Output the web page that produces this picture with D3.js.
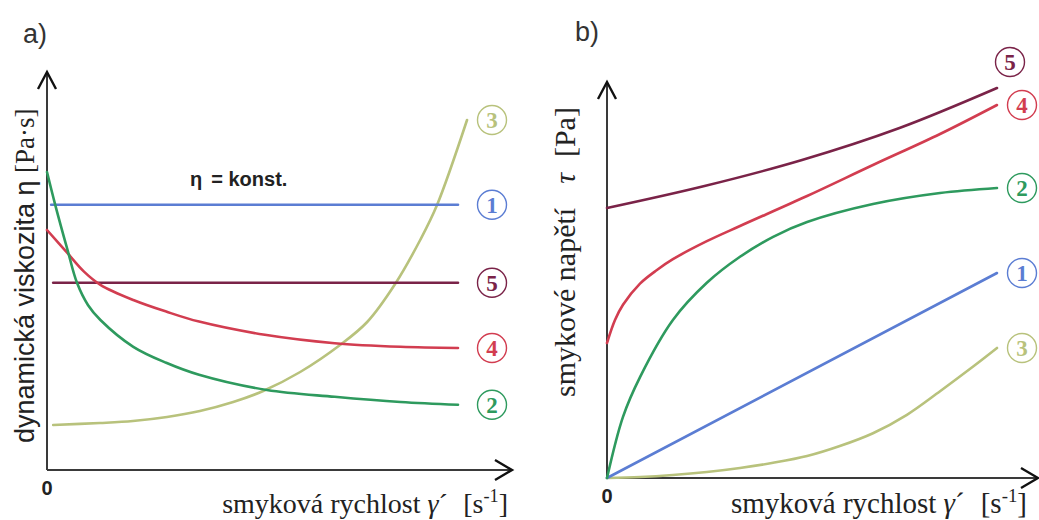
<!DOCTYPE html>
<html><head><meta charset="utf-8">
<script src="https://cdn.jsdelivr.net/npm/d3@7"></script>
<style>
html,body{margin:0;padding:0;background:#fff;}
svg{display:block;}
</style></head>
<body>
<svg id="chart" width="1039" height="520"></svg>
<script>
// ---------- DATA ----------
const seriesIds = ["1","2","3","4","5"];
const seriesColors = {"1":"#5b7dd3","2":"#2e9a5e","3":"#b8c27c","4":"#d23d50","5":"#7a2348"};

// panel a) dynamic viscosity vs shear rate
const aX1 = [0.1, 10];              const aY1 = [6.63, 6.63];
const aX5 = [0.15, 10];             const aY5 = [4.68, 4.68];
const aX4 = [0, 0.5, 0.9, 1.3, 2.1, 2.9, 3.7, 5.3, 7.0, 8.6, 10];
const aY4 = [6.0, 5.42, 4.96, 4.63, 4.25, 3.96, 3.71, 3.38, 3.17, 3.08, 3.05];
const aX2 = [0, 0.2, 0.5, 0.73, 1.0, 1.3, 2.1, 2.9, 3.7, 5.35, 7.0, 8.6, 10];
const aY2 = [7.45, 6.63, 5.5, 4.68, 4.12, 3.75, 3.08, 2.68, 2.38, 2.0, 1.83, 1.7, 1.63];
const aX3 = [0.15, 1.29, 2.09, 2.92, 3.72, 4.53, 5.26, 6.16, 7.13, 7.79, 8.47, 9.08, 9.49, 10.22];
const aY3 = [1.125, 1.175, 1.225, 1.325, 1.475, 1.7, 1.975, 2.45, 3.125, 3.7, 4.65, 5.75, 6.625, 8.75];

// panel b) shear stress vs shear rate
const bX5 = [0, 2.5, 5, 7.5, 10];   const bY5 = [6.75, 7.3, 7.95, 8.75, 9.75];
const bX4 = [0, 0.205, 0.41, 0.846, 1.28, 1.69, 2.56, 3.41, 5.13, 6.82, 8.54, 10];
const bY4 = [3.375, 3.95, 4.33, 4.86, 5.2, 5.47, 5.92, 6.3, 7.05, 7.825, 8.6, 9.325];
const bX2 = [0, 0.41, 0.85, 1.69, 2.56, 3.41, 4.26, 5.13, 6.82, 8.54, 10];
const bY2 = [0, 1.53, 2.53, 3.95, 4.88, 5.53, 6.03, 6.4, 6.85, 7.125, 7.25];
const bX1 = [0, 10];                const bY1 = [0, 5.125];
const bX3 = [0, 0.85, 1.69, 2.56, 3.41, 4.26, 5.13, 5.97, 6.82, 7.69, 8.54, 9.38, 10];
const bY3 = [0, 0.025, 0.075, 0.15, 0.25, 0.38, 0.55, 0.8, 1.12, 1.58, 2.17, 2.78, 3.25];

const panelLabels = ["a)", "b)"];
const originLabel = "0";
const aYTitle = "dynamická viskozita η";
const aYUnit = "[Pa·s]";
const bYTitle = "smykové napětí";
const bYSym = "τ";
const bYUnit = "[Pa]";
const xTitle = "smyková rychlost";
const xSym = "γ";
const constLabel = "= konst.";
const constSym = "η";

// ---------- DRAW ----------
const svg = d3.select("#chart");
const AX = "#3a3a3a";
const serif = "'Liberation Serif', 'Times New Roman', serif";
const sans = "'Liberation Sans', Arial, sans-serif";

function zip(xs, ys){ return xs.map((x,i)=>({x, y:ys[i]})); }

function panel(cfg){
  const g = svg.append("g");
  const x = d3.scaleLinear().domain([0,10]).range(cfg.xr);
  const y = d3.scaleLinear().domain([0,10]).range(cfg.yr);
  const ox = x(0), oy = y(0);
  g.append("line").attr("x1",ox).attr("y1",oy).attr("x2",ox).attr("y2",cfg.yTop)
    .attr("stroke",AX).attr("stroke-width",2);
  g.append("line").attr("x1",ox).attr("y1",oy).attr("x2",cfg.xEnd).attr("y2",oy)
    .attr("stroke",AX).attr("stroke-width",2);
  g.append("path").attr("d",`M${ox-9},${cfg.yTop+17}L${ox},${cfg.yTop}L${ox+9},${cfg.yTop+17}`)
    .attr("fill","none").attr("stroke","#111").attr("stroke-width",2.4);
  g.append("path").attr("d",`M${cfg.xEnd-17},${oy-10}L${cfg.xEnd},${oy}L${cfg.xEnd-17},${oy+10}`)
    .attr("fill","none").attr("stroke","#111").attr("stroke-width",2.4);
  const line = d3.line().x(d=>x(d.x)).y(d=>y(d.y)).curve(d3.curveCatmullRom.alpha(0.5));
  cfg.series.forEach(s=>{
    g.append("path").datum(zip(s.xs,s.ys)).attr("d",line)
      .attr("fill","none").attr("stroke",seriesColors[s.id]).attr("stroke-width",2.6)
      .attr("stroke-linecap","round");
  });
  cfg.series.forEach(s=>{
    const off = (cfg.labelOff && cfg.labelOff[s.id]) || [0,0];
    const lx = x(10) + cfg.labelDx + off[0];
    const ly = y(s.ys[s.ys.length-1]) + off[1];
    g.append("circle").attr("cx",lx).attr("cy",ly).attr("r",14.5)
      .attr("fill","#fff").attr("stroke",seriesColors[s.id]).attr("stroke-width",1.4);
    g.append("text").attr("x",lx).attr("y",ly+8).attr("text-anchor","middle")
      .style("font-family",serif).attr("font-size",23).attr("font-weight","bold")
      .attr("fill",seriesColors[s.id]).text(s.id);
  });
  g.append("text").attr("x",ox).attr("y",cfg.zeroY).attr("text-anchor","middle")
    .style("font-family",sans).attr("font-weight","bold").attr("font-size",20)
    .attr("fill","#222").text(originLabel);
  g.append("text").attr("x",cfg.plx).attr("y",cfg.ply).style("font-family",sans)
    .attr("font-size",27).attr("fill","#333").text(cfg.panelLabel);
  const t = g.append("text").attr("x",cfg.xtX).attr("y",cfg.xtY).attr("text-anchor","end")
    .style("font-family",serif).attr("font-size",cfg.xtSize).attr("fill","#222");
  t.append("tspan").text(xTitle + " ");
  t.append("tspan").attr("font-style","italic").text(xSym);
  t.append("tspan").text("´");
  t.append("tspan").attr("dx",cfg.xtSize*0.55).text("[s");
  t.append("tspan").attr("dy",-cfg.xtSize*0.38).attr("font-size",cfg.xtSize*0.65).text("-1");
  t.append("tspan").attr("dy",cfg.xtSize*0.38).text("]");
  return {g,x,y};
}

const A = panel({
  xr:[47,458], yr:[470,70], yTop:72, xEnd:512, labelDx:34,
  zeroY:495, plx:23, ply:43, panelLabel:panelLabels[0],
  xtX:508, xtY:513, xtSize:28,
  series:[
    {id:"3", xs:aX3, ys:aY3},
    {id:"1", xs:aX1, ys:aY1},
    {id:"5", xs:aX5, ys:aY5},
    {id:"4", xs:aX4, ys:aY4},
    {id:"2", xs:aX2, ys:aY2}
  ]
});
const B = panel({
  xr:[607,997], yr:[478,78], yTop:82, xEnd:1038, labelDx:25,
  labelOff:{"5":[-12,-26]},
  zeroY:503, plx:575, ply:41, panelLabel:panelLabels[1],
  xtX:1027, xtY:513, xtSize:29,
  series:[
    {id:"3", xs:bX3, ys:bY3},
    {id:"1", xs:bX1, ys:bY1},
    {id:"2", xs:bX2, ys:bY2},
    {id:"4", xs:bX4, ys:bY4},
    {id:"5", xs:bX5, ys:bY5}
  ]
});

const kt = A.g.append("text").attr("x",190).attr("y",186)
  .style("font-family",sans).attr("font-weight","bold").attr("font-size",20).attr("fill","#222");
kt.append("tspan").text(constSym);
kt.append("tspan").attr("dx",9).text(constLabel);

const ya = A.g.append("text").attr("transform","translate(34,443) rotate(-90)")
  .style("font-family",sans).attr("font-size",27).attr("fill","#222");
ya.append("tspan").text(aYTitle + " ");
ya.append("tspan").style("font-family",serif).text(aYUnit);

const yb = B.g.append("text").attr("transform","translate(575,397) rotate(-90)")
  .style("font-family",serif).attr("font-size",30).attr("fill","#222");
yb.append("tspan").text(bYTitle);
yb.append("tspan").attr("dx",24).attr("font-style","italic").text(bYSym);
yb.append("tspan").attr("dx",16).text(bYUnit);
</script>
</body></html>
